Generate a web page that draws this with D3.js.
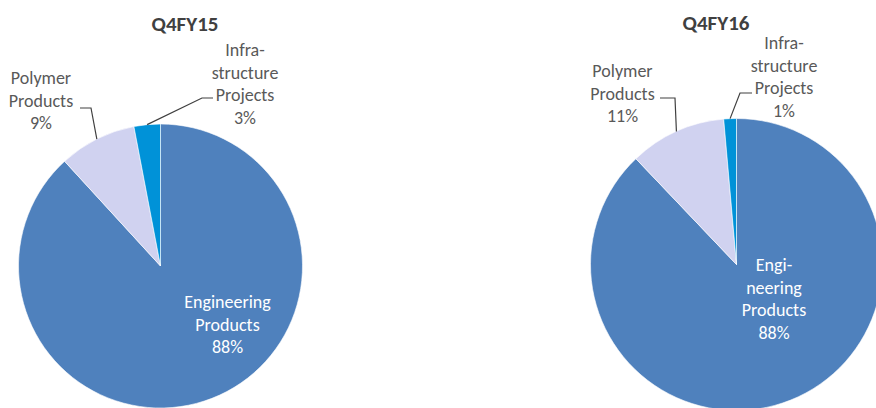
<!DOCTYPE html>
<html>
<head>
<meta charset="utf-8">
<script src="https://cdn.jsdelivr.net/npm/d3@7"></script>
<style>
  html, body { margin: 0; padding: 0; background: #ffffff; }
  svg { display: block; font-family: Carlito, Lato, "Open Sans", sans-serif; }
</style>
</head>
<body>
<svg id="chart" width="876" height="408"></svg>
<script>
// ---- Data ----
const categories = ["Engineering Products", "Polymer Products", "Infrastructure Projects"];
const titles = ["Q4FY15", "Q4FY16"];
const valuesFY15 = [88.2, 8.8, 3.0];
const valuesFY16 = [87.9, 10.7, 1.4];

// ---- Style / layout ----
const colors = ["#4F81BD", "#D0D2F0", "#0092D8"];
const textColor = "#595959";

const pies = [
  {
    title: titles[0], values: valuesFY15,
    cx: 160.5, cy: 266, r: 142, titleX: 185, titleY: 31,
    labels: [
      { lines: ["Engineering", "Products", "88%"], x: 227.5, y: 302, fill: "#ffffff", leader: null },
      { lines: ["Polymer", "Products", "9%"], x: 41, y: 78, fill: textColor, leader: { ax: 80, ay: 108, bx: 91 } },
      { lines: ["Infra-", "structure", "Projects", "3%"], x: 245, y: 50, fill: textColor, leader: { ax: 213, ay: 98, bx: 202 } }
    ]
  },
  {
    title: titles[1], values: valuesFY16,
    cx: 736.5, cy: 264.5, r: 146, titleX: 716, titleY: 30,
    labels: [
      { lines: ["Engi-", "neering", "Products", "88%"], x: 774, y: 265, fill: "#ffffff", leader: null },
      { lines: ["Polymer", "Products", "11%"], x: 622.5, y: 71, fill: textColor, leader: { ax: 660, ay: 98, bx: 675 } },
      { lines: ["Infra-", "structure", "Projects", "1%"], x: 784, y: 43, fill: textColor, leader: { ax: 752, ay: 93, bx: 740 } }
    ]
  }
];

const svg = d3.select("#chart");
const pieGen = d3.pie().sort(null).value(d => d);
const lineH = 22.5;

pies.forEach(p => {
  const g = svg.append("g").attr("transform", `translate(${p.cx},${p.cy})`);
  const arcs = pieGen(p.values);
  const arcGen = d3.arc().innerRadius(0).outerRadius(p.r);
  g.selectAll("path.slice")
    .data(arcs)
    .join("path")
    .attr("class", "slice")
    .attr("d", arcGen)
    .attr("fill", (d, i) => colors[i])
    .attr("stroke", "#ffffff")
    .attr("stroke-width", 0.6);

  svg.append("text")
    .attr("x", p.titleX).attr("y", p.titleY)
    .attr("text-anchor", "middle")
    .attr("font-size", 21).attr("font-weight", "bold")
    .attr("fill", "#404040")
    .text(p.title);

  p.labels.forEach((lab, i) => {
    const t = svg.append("text")
      .attr("text-anchor", "middle")
      .attr("font-size", 18)
      .attr("fill", lab.fill);
    lab.lines.forEach((ln, k) => {
      t.append("tspan").attr("x", lab.x).attr("y", lab.y + k * lineH).attr("dy", "0.35em").text(ln);
    });
    if (lab.leader) {
      const a = arcs[i];
      const mid = (a.startAngle + a.endAngle) / 2;
      const ex = p.cx + Math.sin(mid) * p.r;
      const ey = p.cy - Math.cos(mid) * p.r;
      svg.append("path")
        .attr("d", `M${lab.leader.ax},${lab.leader.ay}L${lab.leader.bx},${lab.leader.ay}L${ex},${ey}`)
        .attr("fill", "none")
        .attr("stroke", "#404040")
        .attr("stroke-width", 1.2);
    }
  });
});
</script>
</body>
</html>
